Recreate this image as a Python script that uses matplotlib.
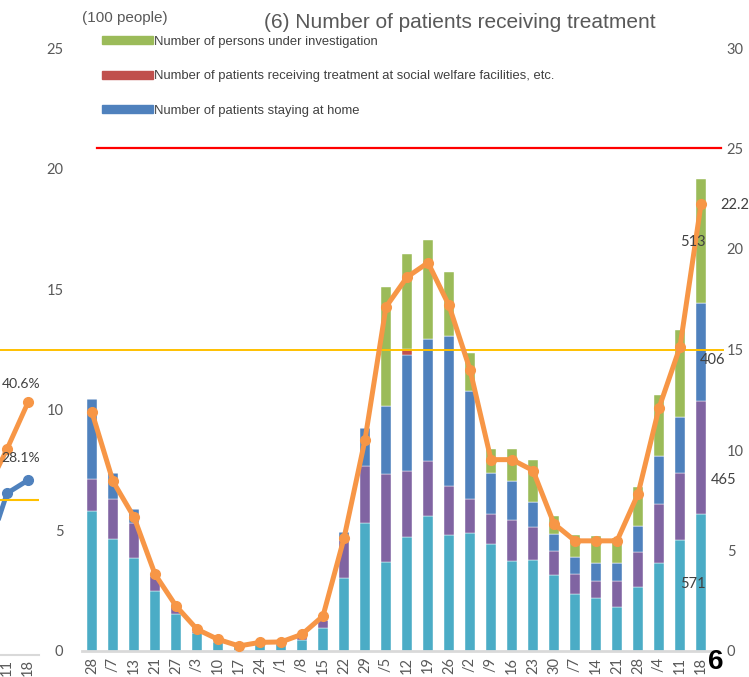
#Recreate the weekly patient treatment chart (stacked bars + orange line)
import numpy as np
import matplotlib.pyplot as plt
from matplotlib.patches import Patch

W, H = 749, 677

weeks = ["28", "/7", "13", "21", "27", "/3", "10", "17", "24", "/1", "/8", "15", "22", "29", "/5",
         "12", "19", "26", "/2", "/9", "16", "23", "30", "/7", "14", "21", "28", "/4", "11", "18"]

#stack segments, 100 people (left axis)
hospital = [5.80, 4.65, 3.85, 2.50, 1.55, 0.76, 0.39, 0.18, 0.30, 0.30, 0.46, 0.94, 3.03, 5.32, 3.69,
            4.72, 5.60, 4.83, 4.88, 4.42, 3.75, 3.79, 3.17, 2.38, 2.20, 1.83, 2.64, 3.65, 4.62, 5.69]
hotel = [1.35, 1.67, 1.47, 0.62, 0.40, 0.05, 0.02, 0.02, 0.02, 0.02, 0.11, 0.35, 1.59, 2.36, 3.64,
         2.73, 2.26, 2.02, 1.44, 1.27, 1.69, 1.36, 0.97, 0.82, 0.70, 1.07, 1.46, 2.46, 2.74, 4.67]
home = [3.31, 1.08, 0.56, 0.05, 0.02, 0.0, 0.0, 0.0, 0.0, 0.0, 0.0, 0.0, 0.31, 1.56, 2.82,
        4.81, 5.07, 6.22, 4.44, 1.69, 1.61, 1.02, 0.72, 0.70, 0.75, 0.75, 1.08, 1.99, 2.36, 4.08]
welfare = [0, 0, 0, 0, 0, 0, 0, 0, 0, 0, 0, 0, 0, 0, 0,
           0.25, 0, 0, 0, 0, 0, 0, 0, 0, 0, 0, 0, 0, 0, 0]
investigation = [0, 0, 0, 0, 0, 0, 0, 0, 0, 0, 0, 0, 0, 0, 4.95,
                 3.95, 4.10, 2.63, 1.60, 1.00, 1.33, 1.73, 0.74, 0.90, 1.10, 1.05, 1.62, 2.50, 3.58, 5.14]

#orange line (right axis)
line_vals = [11.87, 8.44, 6.66, 3.82, 2.24, 1.08, 0.58, 0.25, 0.43, 0.45, 0.83, 1.74, 5.61, 10.51, 17.12,
             18.60, 19.32, 17.19, 14.00, 9.52, 9.52, 8.98, 6.33, 5.48, 5.48, 5.48, 7.81, 12.09, 15.13, 22.22]

#cropped neighbouring panel on the left (%)
left_labels = ["", "", "11", "18"]
left_orange = [19.0, 26.2, 33.1, 40.6]
left_blue = [10.0, 15.7, 26.0, 28.1]

c_cyan = "#4BACC6"
c_purple = "#8064A2"
c_blue = "#4F81BD"
c_red = "#C0504D"
c_green = "#9BBB59"
c_orange = "#F79646"
txt = "#595959"

plt.rcParams['font.family'] = ['Liberation Sans', 'DejaVu Sans']

fig = plt.figure(figsize=(W / 100, H / 100), dpi=100)

#left cropped panel
ax0 = fig.add_axes([-45.5 / W, 22 / H, 84 / W, 311 / H])
xl = np.arange(len(left_labels))
ax0.plot(xl, left_orange, color=c_orange, lw=3.5, marker="o", ms=7)
ax0.plot(xl, left_blue, color=c_blue, lw=3.5, marker="o", ms=7)
ax0.axhline(25, color="#FFC000", lw=1.5)
ax0.set_xlim(-0.5, len(left_labels) - 0.5)
ax0.set_ylim(0, 50)
ax0.set_xticks(xl)
ax0.set_xticklabels(left_labels, rotation=90, color=txt, fontsize=10.5, family="Lato")
ax0.tick_params(length=0, pad=3)
ax0.set_yticks([])
for s in ["top", "left", "right"]:
    ax0.spines[s].set_visible(False)
ax0.spines["bottom"].set_color("#D9D9D9")
ax0.spines["bottom"].set_linewidth(1.5)
ax0.text(1.75, 43.5, "40.6%", ha="left", va="center", color="#404040", fontsize=10, family="Lato")
ax0.text(1.75, 31.6, "28.1%", ha="left", va="center", color="#404040", fontsize=10, family="Lato")

#main panel
ax = fig.add_axes([81.5 / W, 26 / H, 630 / W, 603 / H])
x = np.arange(len(weeks))
bw = 0.45
bottom = np.zeros(len(weeks))
for vals, col in [(hospital, c_cyan), (hotel, c_purple), (home, c_blue), (welfare, c_red), (investigation, c_green)]:
    ax.bar(x, vals, bw, bottom=bottom, color=col, edgecolor="white", linewidth=0.3)
    bottom += np.array(vals)

ax.set_xlim(-0.5, len(weeks) - 0.5)
ax.set_ylim(0, 25)
ax.set_yticks([0, 5, 10, 15, 20, 25])
ax.set_xticks(x)
ax.set_xticklabels(weeks, rotation=90, va="top", color=txt, fontsize=10.5, family="Lato")
ax.tick_params(axis="x", length=0, pad=4)
ax.tick_params(axis="y", length=0, pad=13, labelcolor=txt, labelsize=10.5)
for lab in ax.get_yticklabels():
    lab.set_family("Lato")
for s in ["top", "left", "right"]:
    ax.spines[s].set_visible(False)
ax.spines["bottom"].set_color("#D9D9D9")
ax.spines["bottom"].set_linewidth(2)

ax2 = ax.twinx()
ax2.set_ylim(0, 30)
ax2.set_yticks([0, 5, 10, 15, 20, 25, 30])
ax2.tick_params(axis="y", length=0, pad=11, labelcolor=txt, labelsize=10.5)
for lab in ax2.get_yticklabels():
    lab.set_family("Lato")
for s in ["top", "left", "right", "bottom"]:
    ax2.spines[s].set_visible(False)
ax2.axhline(25, xmin=(97 - 81.5) / 630, xmax=(721 - 81.5) / 630, color="#FF0000", lw=1.6, clip_on=False)
ax2.axhline(15, xmin=-81.5 / 630, xmax=(723 - 81.5) / 630, color="#FFC000", lw=1.4, clip_on=False)
ax2.plot(x, line_vals, color=c_orange, lw=3.6, marker="o", ms=7, clip_on=False)

lbl = dict(color="#404040", fontsize=10.5, family="Lato", ha="center", va="center")
ax2.text(30.62, 22.2, "22.2", **lbl)
ax2.text(28.62, 20.33, "513", **lbl)
ax2.text(29.57, 14.5, "406", **lbl)
ax2.text(30.1, 8.52, "465", **lbl)
ax2.text(28.62, 3.34, "571", **lbl)

#legend, title, units
handles = [Patch(color=c_green), Patch(color=c_red), Patch(color=c_blue)]
names = ["Number of persons under investigation",
         "Number of patients receiving treatment at social welfare facilities, etc.",
         "Number of patients staying at home"]
fig.legend(handles, names, loc="upper left", bbox_to_anchor=(102 / W, 1 - 36 / H), frameon=False,
           fontsize=9.4, handlelength=3.9, handleheight=0.55, handletextpad=0.1, labelspacing=1.72,
           borderpad=0, borderaxespad=0, labelcolor="#404040")

fig.text(460 / W, 1 - 22 / H, "(6) Number of patients receiving treatment", ha="center", va="center",
         fontsize=15, color=txt)
fig.text(125 / W, 1 - 18 / H, "(100 people)", ha="center", va="center", fontsize=11, color=txt)
fig.text(716 / W, 1 - 662 / H, "6", ha="center", va="center", fontsize=20, fontweight="bold", color="black")

fig.savefig("out.png", dpi=100)
